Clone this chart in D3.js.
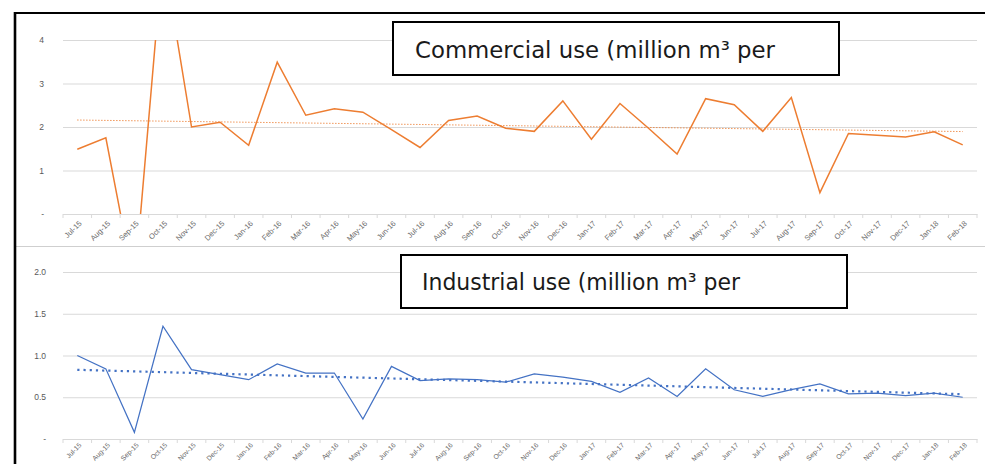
<!DOCTYPE html>
<html>
<head>
<meta charset="utf-8">
<script src="https://cdn.jsdelivr.net/npm/d3@7"></script>
<style>
  html, body { margin: 0; padding: 0; background: #fff; }
  svg { display: block; }
</style>
</head>
<body>
<svg id="chart" width="985" height="464"></svg>
<script>
// Monthly water use, Jul-15 to Feb-18
const months = ["Jul-15","Aug-15","Sep-15","Oct-15","Nov-15","Dec-15","Jan-16","Feb-16","Mar-16","Apr-16","May-16","Jun-16",
  "Jul-16","Aug-16","Sep-16","Oct-16","Nov-16","Dec-16","Jan-17","Feb-17","Mar-17","Apr-17","May-17","Jun-17",
  "Jul-17","Aug-17","Sep-17","Oct-17","Nov-17","Dec-17","Jan-18","Feb-18"];

const commercialUse = [1.49,1.75,-1.65,6.0,2.00,2.11,1.58,3.49,2.27,2.42,2.34,1.94,
  1.53,2.15,2.25,1.97,1.90,2.60,1.72,2.54,1.97,1.38,2.65,2.51,
  1.90,2.68,0.49,1.85,1.81,1.77,1.89,1.59];

const industrialUse = [1.00,0.84,0.08,1.35,0.83,0.77,0.71,0.90,0.79,0.79,0.24,0.87,
  0.70,0.72,0.71,0.68,0.78,0.74,0.69,0.56,0.73,0.51,0.84,0.59,
  0.51,0.59,0.66,0.54,0.55,0.52,0.55,0.50];

const commercialTicks = [0, 1, 2, 3, 4];
const commercialTickLabels = ["-", "1", "2", "3", "4"];
const industrialTicks = [0, 0.5, 1, 1.5, 2];
const industrialTickLabels = ["-", "0.5", "1.0", "1.5", "2.0"];

const commercialTitle = "Commercial use (million m³ per";
const industrialTitle = "Industrial use (million m³ per";

const svg = d3.select("#chart");
const FONT = "'Liberation Sans', Arial, sans-serif";
const TITLE_FONT = "'DejaVu Sans', 'Liberation Sans', sans-serif";

const x = d3.scaleBand().domain(months).range([63, 977]).padding(0);

// Least-squares trend over month index
function trend(values) {
  const n = values.length;
  const idx = d3.range(n);
  const mx = d3.mean(idx), my = d3.mean(values);
  const sxy = d3.sum(idx, i => (i - mx) * (values[i] - my));
  const sxx = d3.sum(idx, i => (i - mx) * (i - mx));
  const b = sxy / sxx, a = my - b * mx;
  return [{ i: 0, v: a }, { i: n - 1, v: a + b * (n - 1) }];
}

function panel(cfg) {
  const y = d3.scaleLinear().domain(cfg.domain).range(cfg.range);
  const g = svg.append("g");
  const clipId = cfg.id + "-clip";

  svg.append("defs").append("clipPath").attr("id", clipId)
    .append("rect")
    .attr("x", x.range()[0]).attr("y", cfg.range[1])
    .attr("width", x.range()[1] - x.range()[0])
    .attr("height", cfg.range[0] - cfg.range[1]);

  // gridlines
  const yAxis = d3.axisLeft(y)
    .tickValues(cfg.ticks)
    .tickSize(-(x.range()[1] - x.range()[0]))
    .tickPadding(0)
    .tickFormat((d, i) => cfg.tickLabels[i]);
  const ya = g.append("g")
    .attr("transform", `translate(${x.range()[0]},0)`)
    .call(yAxis);
  ya.select(".domain").remove();
  ya.selectAll(".tick line").attr("stroke", "#d9d9d9").attr("stroke-width", 1);
  ya.selectAll(".tick text")
    .attr("x", cfg.labelX - x.range()[0])
    .attr("fill", "#595959")
    .style("font-family", FONT)
    .style("font-size", "8.5px");

  // category axis
  const xAxis = d3.axisBottom(x).tickSize(0).tickSizeOuter(0);
  const xa = g.append("g")
    .attr("transform", `translate(0,${cfg.range[0]})`)
    .call(xAxis);
  xa.select(".domain").attr("stroke", "#d9d9d9");
  xa.selectAll(".tick text")
    .attr("fill", "#6a6a6a")
    .style("font-family", FONT)
    .style("font-size", cfg.xFont + "px")
    .attr("text-anchor", "end")
    .attr("dy", "0.35em")
    .attr("y", 0)
    .attr("transform", `translate(3,${cfg.xOffset}) rotate(-45)`);
  // boundary tick marks between categories
  xa.selectAll(".bound")
    .data(d3.range(months.length + 1))
    .join("line")
    .attr("class", "bound")
    .attr("x1", i => x.range()[0] + i * x.step())
    .attr("x2", i => x.range()[0] + i * x.step())
    .attr("y1", 0).attr("y2", 4)
    .attr("stroke", "#d9d9d9");

  const line = d3.line()
    .x((d, i) => x(months[i]) + x.bandwidth() / 2)
    .y(d => y(d));

  const plot = g.append("g").attr("clip-path", `url(#${clipId})`);

  plot.append("path")
    .datum(cfg.values)
    .attr("d", line)
    .attr("fill", "none")
    .attr("stroke", cfg.color)
    .attr("stroke-width", cfg.lineWidth)
    .attr("stroke-linejoin", "miter");

  const t = trend(cfg.values);
  plot.append("path")
    .datum(t)
    .attr("d", d3.line()
      .x(d => x(months[d.i]) + x.bandwidth() / 2)
      .y(d => y(d.v)))
    .attr("fill", "none")
    .attr("stroke", cfg.color)
    .attr("stroke-width", cfg.trendWidth)
    .attr("stroke-dasharray", cfg.trendDash)
    .attr("stroke-linecap", cfg.trendCap);

  // title box
  const b = cfg.box;
  g.append("rect")
    .attr("x", b.x).attr("y", b.y).attr("width", b.w).attr("height", b.h)
    .attr("fill", "#fff").attr("stroke", "#000").attr("stroke-width", 2);
  g.append("text")
    .attr("x", b.tx).attr("y", b.ty)
    .attr("fill", "#1a1a1a")
    .style("font-family", TITLE_FONT)
    .style("font-size", b.fs + "px")
    .attr("textLength", b.tl)
    .attr("lengthAdjust", "spacingAndGlyphs")
    .text(cfg.title);
}

panel({
  id: "commercial",
  domain: [0, 4], range: [214, 40],
  ticks: commercialTicks, tickLabels: commercialTickLabels, labelX: 44,
  xFont: 7.6, xOffset: 8,
  values: commercialUse, color: "#ED7D31", lineWidth: 1.5,
  trendWidth: 1, trendDash: "1.2 1.8", trendCap: "butt",
  title: commercialTitle,
  box: { x: 393, y: 22, w: 446, h: 53, tx: 415, ty: 57.5, fs: 23, tl: 360 }
});

panel({
  id: "industrial",
  domain: [0, 2], range: [439, 272],
  ticks: industrialTicks, tickLabels: industrialTickLabels, labelX: 46,
  xFont: 6.8, xOffset: 5,
  values: industrialUse, color: "#4472C4", lineWidth: 1.25,
  trendWidth: 2.2, trendDash: "2.2 4", trendCap: "butt",
  title: industrialTitle,
  box: { x: 401, y: 255, w: 446, h: 53, tx: 422, ty: 290, fs: 23, tl: 318 }
});

// frame and divider
svg.append("line").attr("x1", 15).attr("x2", 985).attr("y1", 246.5).attr("y2", 246.5)
  .attr("stroke", "#cfcfcf").attr("stroke-width", 1.2);
svg.append("line").attr("x1", 14).attr("x2", 985).attr("y1", 13).attr("y2", 13)
  .attr("stroke", "#000").attr("stroke-width", 2.2);
svg.append("line").attr("x1", 15).attr("x2", 15).attr("y1", 12).attr("y2", 464)
  .attr("stroke", "#000").attr("stroke-width", 2.6);
</script>
</body>
</html>
